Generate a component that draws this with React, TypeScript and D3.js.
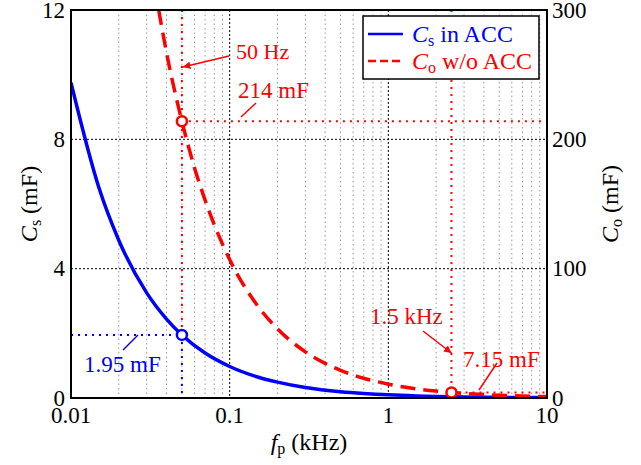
import React from 'react';
import * as d3 from 'd3';

// frequencies (kHz) and values
const csFreq = [0.01, 0.015, 0.02, 0.03, 0.04, 0.05, 0.07, 0.1, 0.15, 0.2, 0.3, 0.5, 0.7, 1, 1.5, 2, 3, 5, 7, 10];
const csValues = [9.75, 6.5, 4.88, 3.25, 2.44, 1.95, 1.39, 0.975, 0.65, 0.49, 0.325, 0.195, 0.14, 0.0975, 0.065, 0.049, 0.0325, 0.0195, 0.014, 0.01];

const coFreq = [0.0357, 0.04, 0.05, 0.06, 0.07, 0.08, 0.1, 0.15, 0.2, 0.3, 0.5, 0.7, 1, 1.5, 2, 3, 5, 7, 10];
const coValues = [300, 267, 214, 178, 153, 134, 107, 71.3, 53.5, 35.7, 21.4, 15.3, 10.7, 7.13, 5.35, 3.57, 2.14, 1.53, 1.07];

const xTicks = [0.01, 0.1, 1, 10];
const xTickLabels = ['0.01', '0.1', '1', '10'];
const leftTicks = [0, 4, 8, 12];
const rightTicks = [0, 100, 200, 300];

// marked points
const csMark = { f: 0.05, v: 1.95 };
const coMark50 = { f: 0.05, v: 214 };
const coMarkHi = { f: 2.5, v: 4.3 };

const W = 641;
const H = 465;
const margin = { left: 71, right: 94, top: 10, bottom: 67 };
const FONT = "'Liberation Serif', 'Times New Roman', Times, serif";

export default function App() {
  const x = d3.scaleLog().domain([0.01, 10]).range([margin.left, W - margin.right]);
  const yL = d3.scaleLinear().domain([0, 12]).range([H - margin.bottom, margin.top]);
  const yR = d3.scaleLinear().domain([0, 300]).range([H - margin.bottom, margin.top]);
  const x0 = x.range()[0], x1 = x.range()[1];
  const y0 = yL.range()[0], y1 = yL.range()[1];

  const csLine = d3.line<number>().x((_, i) => x(csFreq[i])).y(d => yL(d)).curve(d3.curveMonotoneX);
  const coLine = d3.line<number>().x((_, i) => x(coFreq[i])).y(d => yR(d)).curve(d3.curveMonotoneX);

  const minor: number[] = [];
  [0.01, 0.1, 1].forEach(dec => {
    for (let k = 2; k <= 9; k++) minor.push(dec * k);
  });

  const mx50 = x(coMark50.f), my50 = yR(coMark50.v);
  const mxs = x(csMark.f), mys = yL(csMark.v);
  const mxh = x(coMarkHi.f), myh = yR(coMarkHi.v);

  return (
    <svg width={W} height={H} style={{ position: 'absolute', left: 0, top: 0, background: '#fff', fontFamily: FONT }}>
      <defs>
        <clipPath id="plot">
          <rect x={x0} y={y1} width={x1 - x0} height={y0 - y1} />
        </clipPath>
        <marker id="arr" viewBox="0 0 10 10" refX="10" refY="5" markerWidth="5" markerHeight="5" orient="auto">
          <path d="M0,0 L10,5 L0,10 z" fill="#ff0000" />
        </marker>
      </defs>

      {/* minor grid */}
      {minor.map(f => (
        <line key={'m' + f} x1={x(f)} x2={x(f)} y1={y1} y2={y0} stroke="#999" strokeWidth={1} strokeDasharray="1.5 3" />
      ))}
      {/* major grid */}
      {xTicks.slice(1, 3).map(f => (
        <line key={'M' + f} x1={x(f)} x2={x(f)} y1={y1} y2={y0} stroke="#000" strokeWidth={1} strokeDasharray="2 2" />
      ))}
      {leftTicks.slice(1, 3).map(v => (
        <line key={'h' + v} x1={x0} x2={x1} y1={yL(v)} y2={yL(v)} stroke="#000" strokeWidth={1} strokeDasharray="2 2" />
      ))}

      {/* guide lines */}
      <line x1={mx50} x2={mx50} y1={y1} y2={mys} stroke="#ff0000" strokeWidth={2} strokeDasharray="2 5" />
      <line x1={mx50} x2={x1} y1={my50} y2={my50} stroke="#ff0000" strokeWidth={2} strokeDasharray="2 5" />
      <line x1={mxs} x2={mxs} y1={mys} y2={y0} stroke="#0000ff" strokeWidth={2} strokeDasharray="2 5" />
      <line x1={x0} x2={mxs} y1={mys} y2={mys} stroke="#0000ff" strokeWidth={2} strokeDasharray="2 5" />
      <line x1={mxh} x2={mxh} y1={y1} y2={myh} stroke="#ff0000" strokeWidth={2} strokeDasharray="2 5" />
      <line x1={mxh} x2={x1} y1={myh} y2={myh} stroke="#ff0000" strokeWidth={2} strokeDasharray="2 5" />

      {/* curves */}
      <g clipPath="url(#plot)">
        <path d={csLine(csValues) || ''} fill="none" stroke="#0000ff" strokeWidth={3.5} />
        <path d={coLine(coValues) || ''} fill="none" stroke="#ff0000" strokeWidth={3.5} strokeDasharray="15 8" />
      </g>

      {/* markers */}
      <circle cx={mx50} cy={my50} r={5} fill="#fff" stroke="#ff0000" strokeWidth={2.5} />
      <circle cx={mxs} cy={mys} r={5} fill="#fff" stroke="#0000ff" strokeWidth={2.5} />
      <circle cx={mxh} cy={myh} r={5} fill="#fff" stroke="#ff0000" strokeWidth={2.5} />

      {/* annotations */}
      <text x={236} y={59} fontSize={22} fill="#ff0000">50 Hz</text>
      <line x1={229} y1={56} x2={mx50 + 1} y2={67} stroke="#ff0000" strokeWidth={1.5} markerEnd="url(#arr)" />
      <text x={238} y={98} fontSize={23} fill="#ff0000">214 mF</text>
      <line x1={256} y1={103} x2={241} y2={117} stroke="#ff0000" strokeWidth={1.5} />
      <text x={84} y={372} fontSize={23} fill="#0000ff">1.95 mF</text>
      <line x1={123} y1={350} x2={138} y2={335} stroke="#0000ff" strokeWidth={1.5} />
      <text x={370} y={324} fontSize={23} fill="#ff0000">1.5 kHz</text>
      <line x1={423} y1={331} x2={mxh} y2={353} stroke="#ff0000" strokeWidth={1.5} markerEnd="url(#arr)" />
      <text x={463} y={367} fontSize={23} fill="#ff0000">7.15 mF</text>
      <line x1={497} y1={363} x2={479} y2={390} stroke="#ff0000" strokeWidth={1.5} />

      {/* frame */}
      <rect x={x0} y={y1} width={x1 - x0} height={y0 - y1} fill="none" stroke="#000" strokeWidth={2} />

      {/* legend */}
      <rect x={363} y={16} width={176} height={63} fill="#fff" stroke="#000" strokeWidth={1.5} />
      <line x1={368} x2={403} y1={34} y2={34} stroke="#0000ff" strokeWidth={2.5} />
      <text x={412} y={42} fontSize={24} fill="#0000ff">
        <tspan fontStyle="italic">C</tspan><tspan fontSize={16} dy={4}>s</tspan><tspan dy={-4}> in ACC</tspan>
      </text>
      <line x1={368} x2={403} y1={61} y2={61} stroke="#ff0000" strokeWidth={2.5} strokeDasharray="8 4" />
      <text x={412} y={69} fontSize={24} fill="#ff0000">
        <tspan fontStyle="italic">C</tspan><tspan fontSize={16} dy={4}>o</tspan><tspan dy={-4}> w/o ACC</tspan>
      </text>

      {/* x tick labels */}
      {xTicks.map((f, i) => (
        <text key={'xt' + f} x={x(f)} y={423} fontSize={23} textAnchor="middle">{xTickLabels[i]}</text>
      ))}
      {/* left tick labels */}
      {leftTicks.map(v => (
        <text key={'lt' + v} x={65} y={yL(v)} dy="0.33em" fontSize={23} textAnchor="end">{v}</text>
      ))}
      {/* right tick labels */}
      {rightTicks.map(v => (
        <text key={'rt' + v} x={552} y={yR(v)} dy="0.33em" fontSize={23} textAnchor="start">{v}</text>
      ))}

      {/* axis titles */}
      <text x={(x0 + x1) / 2} y={450} fontSize={24} textAnchor="middle">
        <tspan fontStyle="italic">f</tspan><tspan fontSize={16} dy={4}>p</tspan><tspan dy={-4}> (kHz)</tspan>
      </text>
      <text transform={`translate(37,${(y0 + y1) / 2}) rotate(-90)`} fontSize={24} textAnchor="middle">
        <tspan fontStyle="italic">C</tspan><tspan fontSize={16} dy={4}>s</tspan><tspan dy={-4}> (mF)</tspan>
      </text>
      <text transform={`translate(618,${(y0 + y1) / 2}) rotate(-90)`} fontSize={24} textAnchor="middle">
        <tspan fontStyle="italic">C</tspan><tspan fontSize={16} dy={4}>o</tspan><tspan dy={-4}> (mF)</tspan>
      </text>
    </svg>
  );
}
